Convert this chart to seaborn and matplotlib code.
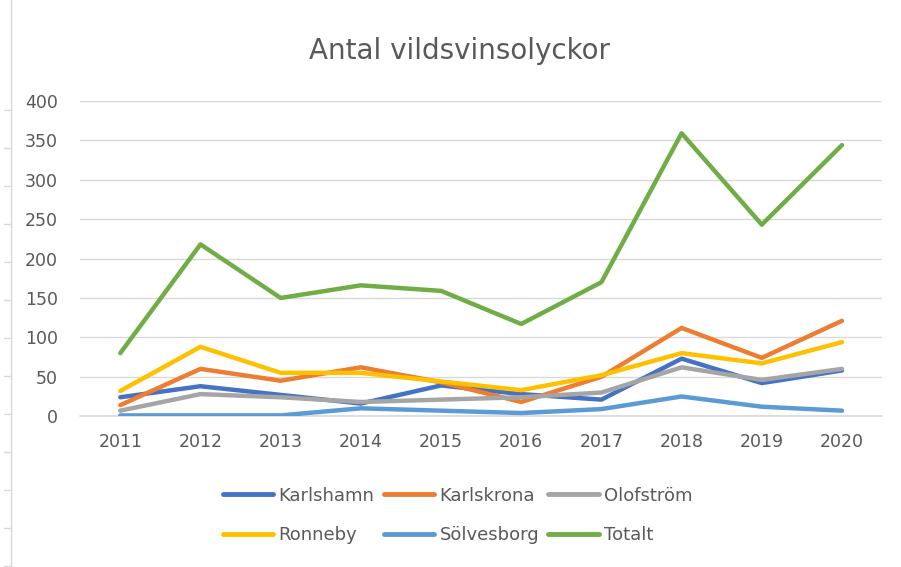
import matplotlib
matplotlib.use("Agg")
import matplotlib.pyplot as plt
import seaborn as sns
import pandas as pd

years = [2011, 2012, 2013, 2014, 2015, 2016, 2017, 2018, 2019, 2020]
karlshamn = [24, 38, 27, 16, 39, 28, 21, 73, 42, 58]
karlskrona = [14, 60, 45, 62, 43, 18, 50, 112, 74, 121]
olofstrom = [7, 28, 24, 18, 21, 24, 30, 62, 46, 60]
ronneby = [32, 88, 55, 55, 44, 33, 52, 80, 67, 94]
solvesborg = [1, 1, 1, 10, 7, 4, 9, 25, 12, 7]
totalt = [80, 218, 150, 166, 159, 117, 170, 359, 243, 344]

series = {
    "Karlshamn": karlshamn,
    "Karlskrona": karlskrona,
    "Olofström": olofstrom,
    "Ronneby": ronneby,
    "Sölvesborg": solvesborg,
    "Totalt": totalt,
}
colors = ["#4472C4", "#ED7D31", "#A5A5A5", "#FFC000", "#5B9BD5", "#70AD47"]

rows = []
for name, vals in series.items():
    for i, v in enumerate(vals):
        rows.append({"pos": i, "Kommun": name, "Antal": v})
df = pd.DataFrame(rows)

sns.set_style("white")
plt.rcParams["font.family"] = ["DejaVu Sans"]

fig = plt.figure(figsize=(9.01, 5.67), dpi=100)
ax = fig.add_axes([0.089, 0.266, 0.890, 0.556])

ax.axhline(0, color="#D9D9D9", linewidth=1.2, zorder=0, clip_on=False)
sns.lineplot(data=df, x="pos", y="Antal", hue="Kommun", palette=colors,
             linewidth=3.2, ax=ax, legend=False)

ax.set_xlim(-0.5, 9.5)
ax.set_ylim(0, 400)
ax.set_yticks(range(0, 401, 50))
ax.set_xticks(range(len(years)))
ax.set_xticklabels([str(y) for y in years])
ax.yaxis.grid(True, color="#D9D9D9", linewidth=1)
ax.set_axisbelow(True)
for s in ax.spines.values():
    s.set_visible(False)
ax.tick_params(axis="both", length=0, labelsize=12.5, colors="#595959")
ax.tick_params(axis="x", pad=12)
ax.tick_params(axis="y", pad=16)
ax.set_xlabel("")
ax.set_ylabel("")

fig.text(0.51, 0.91, "Antal vildsvinsolyckor", ha="center", va="center",
         fontsize=20, color="#595959")

# sheet border on the left edge
fig.add_artist(plt.Line2D([0.012, 0.012], [0, 1], color="#D9D9D9", linewidth=1))
for yy in range(110, 567, 38):
    fy = 1 - yy / 567
    fig.add_artist(plt.Line2D([0.004, 0.012], [fy, fy], color="#D9D9D9", linewidth=1))

handles = [plt.Line2D([0], [0], color=c, linewidth=3.5) for c in colors]
names = list(series.keys())
order = [0, 3, 1, 4, 2, 5]
fig.legend([handles[i] for i in order], [names[i] for i in order],
           loc="center", bbox_to_anchor=(0.508, 0.091), ncol=3, frameon=False,
           fontsize=13, handlelength=2.8, handletextpad=0.3,
           columnspacing=0.5, labelspacing=1.2, labelcolor="#595959")

fig.savefig("out.png", dpi=100)
